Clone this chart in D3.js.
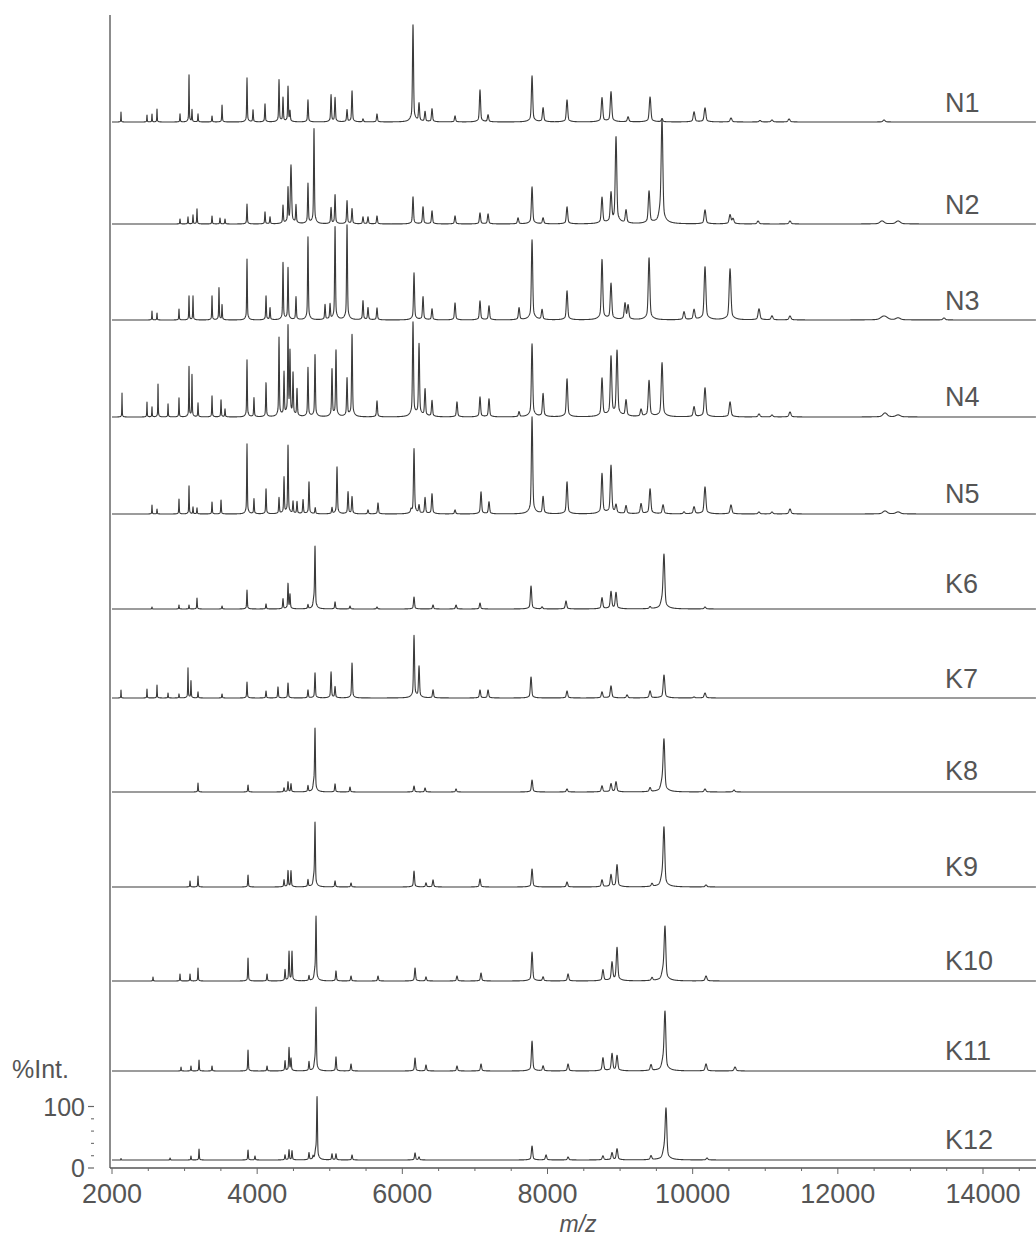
<!DOCTYPE html>
<html><head><meta charset="utf-8">
<script src="https://cdn.jsdelivr.net/npm/d3@7"></script>
<style>body{margin:0;background:#fff}svg{display:block}</style>
</head><body>
<svg id="chart" width="1036" height="1240"></svg>
<script>
// ---- data: peak lists [m/z, relative intensity (a.u.), optional width factor]
// 61.5 a.u. corresponds to 100 %Int on the reference scale
const sampleNames = ["N1","N2","N3","N4","N5","K6","K7","K8","K9","K10","K11","K12"];

const peaksN1 = [[2124,10],[2482,7],[2551,8],[2620,13],[2937,8],[3061,47],[3102,12],[3185,8],[3378,6],[3516,17],[3860,44],[3943,12],[4108,18],[4301,42],[4356,24],[4425,35],[4452,10],[4700,22],[5018,27],[5073,24],[5238,12],[5307,31],[5458,3],[5651,8],[6147,97],[6230,18],[6313,10],[6409,13],[6726,6],[7070,32],[7181,7],[7787,46],[7939,14],[8269,22],[8751,24],[8875,30],[9110,5],[9413,25],[9578,3],[10019,10],[10170,14],[10528,4],[10928,1.5],[11093,2],[11328,3],[12637,2]];
const peaksN2 = [[2937,5],[3047,7],[3116,9],[3171,15],[3378,8],[3488,6],[3557,5],[3860,20],[4108,12],[4177,7],[4356,18],[4425,34],[4466,58,1.6],[4535,18],[4700,40],[4783,95],[5018,16],[5073,29],[5238,23],[5307,15],[5458,7],[5527,7],[5651,8],[6147,27],[6285,17],[6409,13],[6726,8],[7070,11],[7181,10],[7594,6],[7787,37],[7939,6],[8269,17],[8751,26],[8875,29],[8944,86],[9082,13],[9399,32],[9578,97],[9560,12,1.8],[10170,14],[10515,9],[10556,5],[10901,3],[11341,3],[12609,3,2],[12830,3,2]];
const peaksN3 = [[2551,9],[2620,7],[2923,11],[3061,24],[3116,24],[3378,24],[3474,32],[3516,15],[3860,61],[4122,24],[4177,12],[4356,57],[4425,52],[4535,23],[4700,83],[4935,15],[5004,15],[5073,93],[5238,95],[5458,19],[5527,12],[5651,12],[6161,47],[6285,23],[6409,11],[6726,17],[7070,19],[7194,14],[7608,12],[7787,80],[7925,10],[8269,29],[8751,60],[8875,36],[9068,16],[9110,14],[9399,62],[9881,8],[10019,10],[10170,53],[10515,51],[10914,11],[11093,4],[11341,4],[12637,4,3],[12830,2,2],[13463,2]];
const peaksN4 = [[2138,24],[2482,15],[2551,10],[2634,33],[2772,13],[2923,19],[3061,50],[3102,42],[3185,14],[3378,21],[3502,17],[3557,8],[3860,57],[3956,19],[4122,34],[4301,79],[4370,43],[4425,88],[4452,62],[4494,42],[4549,27],[4700,49],[4797,62],[5031,47],[5086,66],[5238,38],[5307,82],[5651,16],[6147,94],[6230,72],[6313,27],[6409,16],[6753,15],[7070,20],[7194,18],[7608,5],[7787,73],[7939,23],[8269,38],[8751,38],[8875,59],[8958,65],[9082,16],[9289,7],[9399,36],[9578,54],[10019,10],[10170,29],[10515,15],[10914,3],[11093,2],[11341,5],[12650,4,2],[12830,2,2]];
const peaksN5 = [[2551,9],[2620,5],[2923,15],[3061,28],[3116,7],[3171,6],[3378,12],[3502,14],[3860,70],[3956,15],[4122,25],[4301,16],[4370,36],[4425,68],[4494,12],[4549,12],[4632,14],[4714,32],[4800,6],[5031,6],[5100,47],[5252,22],[5307,17],[5527,4],[5665,11],[6120,3],[6161,65],[6230,8],[6313,16],[6409,20],[6726,4],[7084,22],[7194,12],[7787,97],[7939,17],[8269,32],[8751,40],[8875,48],[8944,8],[9082,8],[9289,10],[9413,25],[9592,9],[9881,2],[10019,7],[10170,27],[10528,9],[10914,2],[11093,2],[11341,5],[12650,3,2],[12830,2,2]];
const peaksK6 = [[2551,2],[2923,4],[3061,4],[3171,11],[3516,3],[3860,19],[4122,5],[4356,10],[4425,25],[4452,14],[4700,4],[4797,60],[4782,8,1.8],[5073,7],[5279,3],[5651,2],[6161,12],[6423,4],[6740,4],[7070,6],[7773,23],[7925,2],[8255,8],[8751,11],[8875,17],[8944,16],[9413,2],[9605,50],[9585,8,1.8],[10170,2]];
const peaksK7 = [[2124,8],[2482,9],[2620,13],[2772,5],[2923,4],[3047,30],[3088,17],[3185,6],[3516,4],[3860,16],[4122,7],[4287,11],[4425,15],[4700,8],[4797,25],[5018,26],[5073,11],[5307,35],[6161,62],[6230,31],[6423,8],[7070,8],[7181,8],[7773,21],[8269,7],[8751,6],[8875,12],[9096,3],[9413,7],[9605,23],[10019,1],[10170,5]];
const peaksK8 = [[3185,9],[3874,7],[4370,4],[4425,10],[4466,8],[4700,6],[4797,61],[4782,8,1.8],[5073,8],[5279,5],[6161,6],[6313,4],[6740,3],[7787,12],[8269,3],[8751,6],[8875,8],[8944,10],[9413,4],[9605,47],[9585,10,1.8],[10170,3],[10570,2]];
const peaksK9 = [[3075,6],[3185,11],[3874,12],[4370,7],[4425,16],[4466,16],[4700,7],[4797,62],[4782,8,1.8],[5073,6],[5293,4],[6161,16],[6326,4],[6423,7],[7070,8],[7787,18],[8269,5],[8751,7],[8875,12],[8958,22],[9440,3],[9605,54],[9585,10,1.8],[10184,2]];
const peaksK10 = [[2565,4],[2937,7],[3075,7],[3185,13],[3874,23],[4136,7],[4384,11],[4439,29],[4480,29],[4714,5],[4811,62],[4796,8,1.8],[5086,10],[5293,5],[5665,5],[6175,13],[6326,4],[6753,5],[7084,8],[7787,29],[7939,4],[8283,7],[8764,11],[8889,18],[8958,33],[9440,3],[9619,49],[9598,10,1.8],[10184,5]];
const peaksK11 = [[2951,4],[3088,5],[3199,11],[3378,5],[3874,21],[4136,5],[4384,10],[4439,23],[4466,12],[4714,9],[4811,61],[4796,8,1.8],[5086,14],[5293,7],[6175,13],[6326,6],[6753,5],[7084,7],[7787,30],[7939,5],[8283,7],[8764,13],[8889,17],[8958,15],[9426,6],[9619,54],[9598,10,1.8],[10184,7],[10584,4]];
const peaksK12 = [[2124,1.5],[2800,2],[3088,4],[3199,11],[3874,10],[3970,4],[4384,5],[4439,10],[4480,9],[4714,7],[4770,3],[4825,61],[4808,8,1.8],[5031,6],[5086,6],[5307,5],[6175,7],[6230,3],[7787,14],[7980,5],[8283,3],[8764,4],[8889,7],[8958,11],[9426,4],[9633,46],[9612,10,1.8],[10198,2]];

const spectra = [peaksN1,peaksN2,peaksN3,peaksN4,peaksN5,peaksK6,peaksK7,peaksK8,peaksK9,peaksK10,peaksK11,peaksK12];

const xTickValues = [2000,4000,6000,8000,10000,12000,14000];
const intTickValues = [0, 61.5];
const intTickLabels = ["0","100"];

// ---- layout
const W = 1036, H = 1240;
const baselines = [122,224,320,417,514,609,698,792,887,981,1071,1160];
const labelRaise = [10,10,10,11,11,16,10,12,11,11,11,11];
const svg = d3.select("#chart");
const x = d3.scaleLinear().domain([2000,14000]).range([112,983]);
const mzMax = x.invert(W);

const ink = "#3a3a3a";
const textCol = "#555";
const font = "'Liberation Sans', Arial, sans-serif";

// spectrum shape from peak list
function intensityAt(m, peaks) {
  let s = 0;
  for (const p of peaks) {
    const sigma = p[0] * 0.0011 * (p[2] || 1);
    const d = (m - p[0]) / sigma;
    if (d > -100 && d < 100) {
      s += p[1] * (0.86 * Math.exp(-0.5 * d * d) + 0.14 / (1 + (d / 4) * (d / 4)));
    }
  }
  return s;
}

spectra.forEach((peaks, i) => {
  const base = baselines[i];
  const y = d3.scaleLinear().domain([0, 61.5]).range([base, base - 61.5]);
  const grid = d3.range(2000, mzMax, 3).concat(peaks.map(p => p[0])).sort((a,b)=>a-b);
  const pts = grid.map(m => [m, intensityAt(m, peaks)]);
  const line = d3.line().x(d => x(d[0])).y(d => y(d[1]));
  svg.append("path").attr("d", line(pts))
    .attr("fill","none").attr("stroke",ink).attr("stroke-width",1.1)
    .attr("stroke-linejoin","round");
  svg.append("text").attr("x",945).attr("y",base - labelRaise[i])
    .attr("font-family",font).attr("font-size",27).attr("fill",textCol)
    .text(sampleNames[i]);
});

// vertical axis line
svg.append("line").attr("x1",110).attr("x2",110).attr("y1",15).attr("y2",1168)
  .attr("stroke","#666").attr("stroke-width",1.5);

// x axis
const xAxisG = svg.append("g").attr("transform","translate(0,1168)");
xAxisG.append("line").attr("x1",110).attr("x2",W).attr("stroke","#555").attr("stroke-width",1.5);
const minorTicks = d3.range(2000, mzMax, 500);
xAxisG.selectAll("line.minor").data(minorTicks).join("line").attr("class","minor")
  .attr("x1",d=>x(d)).attr("x2",d=>x(d)).attr("y1",0).attr("y2",d => d % 2000 === 0 ? 6 : 3)
  .attr("stroke","#666").attr("stroke-width",1);
xAxisG.selectAll("text").data(xTickValues).join("text")
  .attr("x",d=>x(d)).attr("y",35).attr("text-anchor","middle")
  .attr("font-family",font).attr("font-size",27).attr("fill",textCol)
  .text(d=>d);
svg.append("text").attr("x",578).attr("y",1232).attr("text-anchor","middle")
  .attr("font-family",font).attr("font-size",23).attr("font-style","italic").attr("fill",textCol)
  .text("m/z");

// %Int reference scale
const yInt = d3.scaleLinear().domain([0,61.5]).range([1168,1106.5]);
const intMinor = d3.range(0, 61.5, 61.5/5).slice(1);
svg.selectAll("line.intminor").data(intMinor).join("line").attr("class","intminor")
  .attr("x1",91).attr("x2",94).attr("y1",d=>yInt(d)).attr("y2",d=>yInt(d))
  .attr("stroke","#777").attr("stroke-width",1.2);
svg.selectAll("line.intmajor").data(intTickValues).join("line").attr("class","intmajor")
  .attr("x1",88).attr("x2",94).attr("y1",d=>yInt(d)).attr("y2",d=>yInt(d))
  .attr("stroke","#666").attr("stroke-width",1.2);
svg.selectAll("text.intlab").data(intTickValues).join("text").attr("class","intlab")
  .attr("x",85).attr("y",d=>yInt(d)+9).attr("text-anchor","end")
  .attr("font-family",font).attr("font-size",25).attr("fill",textCol)
  .text((d,i)=>intTickLabels[i]);
svg.append("text").attr("x",12).attr("y",1078)
  .attr("font-family",font).attr("font-size",25).attr("fill",textCol)
  .text("%Int.");
</script>
</body></html>
